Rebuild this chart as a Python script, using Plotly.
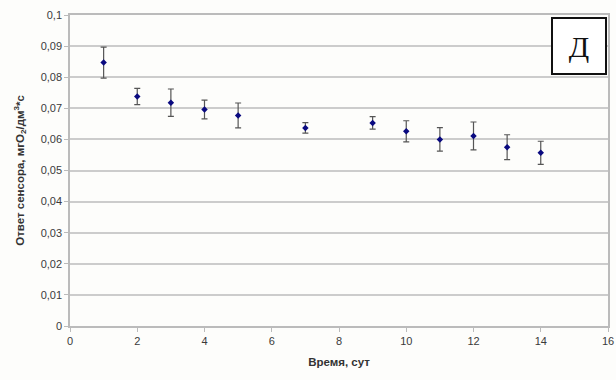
import plotly.graph_objects as go

days = [1, 2, 3, 4, 5, 7, 9, 10, 11, 12, 13, 14]
response = [0.0847, 0.0738, 0.0718, 0.0696, 0.0677, 0.0637, 0.0653, 0.0626, 0.0600, 0.0611, 0.0575, 0.0557]
err = [0.0050, 0.0026, 0.0044, 0.0030, 0.0040, 0.0017, 0.0020, 0.0034, 0.0038, 0.0045, 0.0040, 0.0037]

y_ticks = [0, 0.01, 0.02, 0.03, 0.04, 0.05, 0.06, 0.07, 0.08, 0.09, 0.1]
y_labels = ["0", "0,01", "0,02", "0,03", "0,04", "0,05", "0,06", "0,07", "0,08", "0,09", "0,1"]
x_ticks = [0, 2, 4, 6, 8, 10, 12, 14, 16]

fig = go.Figure()
fig.add_trace(go.Scatter(
    x=days, y=response, mode="markers",
    marker=dict(color="#0a0a80", size=5, symbol="diamond"),
    error_y=dict(type="data", array=err, visible=True, color="#555555", thickness=1.2, width=3),
    showlegend=False,
))

font_main = "Liberation Sans, Arial, sans-serif"
fig.update_layout(
    width=616, height=380,
    margin=dict(l=70, r=8, t=15, b=54),
    paper_bgcolor="#fdfdfb", plot_bgcolor="#fdfdfb",
    font=dict(family=font_main, size=11, color="#444444"),
    xaxis=dict(
        range=[0, 16], tickvals=x_ticks, showgrid=False, zeroline=False, automargin=False,
        showline=True, linecolor="#bbbbbb", linewidth=1.5, mirror=True,
        ticks="outside", ticklen=4, tickcolor="#bbbbbb",
        title=dict(text="<b>Время, сут</b>", font=dict(size=11.5, color="#333333"), standoff=12),
        tickfont=dict(size=11, color="#3a3a3a"),
    ),
    yaxis=dict(
        range=[0, 0.1], tickvals=y_ticks, ticktext=y_labels, automargin=False,
        showgrid=True, gridcolor="#cccccc", gridwidth=1.5, zeroline=False,
        showline=True, linecolor="#bbbbbb", linewidth=1.5, mirror=True,
        ticks="outside", ticklen=4, tickcolor="#bbbbbb",
        title=dict(text="<b>Ответ сенсора, мгО<sub>2</sub>/дм<sup>3</sup>*с</b>", font=dict(size=11.5, color="#333333"), standoff=14),
        tickfont=dict(size=11, color="#3a3a3a"),
    ),
)

fig.add_annotation(
    x=0.998, y=0.993, xref="paper", yref="paper", xanchor="right", yanchor="top",
    text="Д", showarrow=False,
    font=dict(family="Liberation Serif, Times New Roman, serif", size=30, color="#111111"),
    bordercolor="#111111", borderwidth=2, bgcolor="#ffffff",
    width=50, height=52, align="center", valign="middle",
)

fig.write_html(
    "out.html",
    config={"displayModeBar": False},
    post_script="document.body.style.margin='0';document.body.style.overflow='hidden';",
)
